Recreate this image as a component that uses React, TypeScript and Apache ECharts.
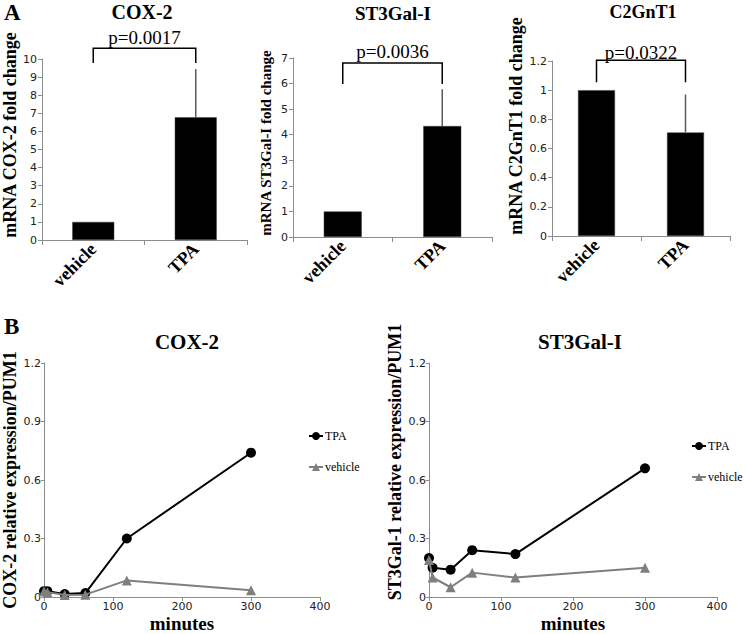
import React, { useEffect, useRef } from "react";
import * as echarts from "echarts";

// ---------- data ----------
const barCategories = ["vehicle", "TPA"];
const cox2Fold = [1, 6.78];
const cox2FoldErr = [0, 2.67];
const st3Fold = [1, 4.34];
const st3FoldErr = [0, 1.44];
const c2Fold = [1, 0.71];
const c2FoldErr = [0, 0.26];
const pValues = ["p=0.0017", "p=0.0036", "p=0.0322"];

const minutes = [0, 5, 30, 60, 120, 300];
const cox2TPA = [0.03, 0.03, 0.015, 0.02, 0.3, 0.74];
const cox2Vehicle = [0.03, 0.025, 0.01, 0.012, 0.085, 0.035];
const st3TPA = [0.2, 0.15, 0.14, 0.24, 0.22, 0.66];
const st3Vehicle = [0.19, 0.1, 0.05, 0.125, 0.1, 0.15];

// ---------- styles / layout ----------
const SERIF = '"Liberation Serif","Times New Roman",serif';
const SANS = '"DejaVu Sans",Verdana,sans-serif';
const AXIS_GRAY = "#8c8c8c";
const LABEL_GRAY = "#222";
const VEH_GRAY = "#7f7f7f";

const barPanels = [
  {
    title: "COX-2", titleX: 142, titleTop: 2, titleSize: 20,
    yName: "mRNA COX-2 fold change", nameSize: 18, nameGap: 23, namePad: 29,
    values: cox2Fold, errs: cox2FoldErr, p: pValues[0],
    max: 10, interval: 1,
    grid: { left: 40, top: 59, width: 207, height: 181 },
    bracket: { drop: 9.78, top: 10.6, text: 11.2 }, barWidth: 42,
  },
  {
    title: "ST3Gal-I", titleX: 393, titleTop: 4, titleSize: 19,
    yName: "mRNA ST3Gal-I fold change", nameSize: 15, nameGap: 20, namePad: 9,
    values: st3Fold, errs: st3FoldErr, p: pValues[1],
    max: 7, interval: 1,
    grid: { left: 293, top: 58, width: 199, height: 179 },
    bracket: { drop: 5.98, top: 6.8, text: 7.25 }, barWidth: 38,
  },
  {
    title: "C2GnT1", titleX: 643, titleTop: 3, titleSize: 18,
    yName: "mRNA C2GnT1 fold change", nameSize: 18, nameGap: 27, namePad: 45,
    values: c2Fold, errs: c2FoldErr, p: pValues[2],
    max: 1.2, interval: 0.2,
    grid: { left: 552, top: 61, width: 178, height: 175 },
    bracket: { drop: 1.055, top: 1.205, text: 1.26 }, barWidth: 37,
  },
];

const linePanels = [
  {
    title: "COX-2", titleX: 187,
    yName: "COX-2 relative expression/PUM1", namePad: 0,
    tpa: cox2TPA, veh: cox2Vehicle,
    grid: { left: 44, top: 363, width: 276, height: 234 },
    legend: { left: 308, top: 430 },
  },
  {
    title: "ST3Gal-I", titleX: 580,
    yName: "ST3Gal-1 relative expression/PUM1", namePad: 36,
    tpa: st3TPA, veh: st3Vehicle,
    grid: { left: 429, top: 363, width: 288, height: 235 },
    legend: { left: 691, top: 440 },
  },
];

function buildOption() {
  const grid: any[] = [];
  const xAxis: any[] = [];
  const yAxis: any[] = [];
  const series: any[] = [];
  const title: any[] = [];
  const legend: any[] = [];

  barPanels.forEach((p, i) => {
    grid.push({ ...p.grid, containLabel: false });
    title.push({
      text: p.title, left: p.titleX, top: p.titleTop, textAlign: "center", padding: 0,
      textStyle: { fontFamily: SERIF, fontWeight: "bold", fontSize: p.titleSize, color: "#000" },
    });
    xAxis.push({
      type: "category", gridIndex: i, data: barCategories,
      axisLine: { lineStyle: { color: AXIS_GRAY, width: 1 } },
      axisTick: { show: true, length: 5, lineStyle: { color: AXIS_GRAY } },
      axisLabel: {
        rotate: 45, interval: 0, margin: 6, color: "#000",
        fontFamily: SERIF, fontWeight: "bold", fontSize: 18,
      },
    });
    yAxis.push({
      type: "value", gridIndex: i, min: 0, max: p.max, interval: p.interval,
      name: p.yName, nameLocation: "middle", nameGap: p.nameGap,
      nameTextStyle: {
        fontFamily: SERIF, fontWeight: "bold", fontSize: p.nameSize, color: "#000",
        padding: [0, 0, 0, p.namePad],
      },
      axisLine: { show: true, lineStyle: { color: AXIS_GRAY, width: 1 } },
      axisTick: { show: true, length: 4, lineStyle: { color: AXIS_GRAY } },
      axisLabel: { margin: 5, color: LABEL_GRAY, fontFamily: SANS, fontSize: 11 },
      splitLine: { show: false },
    });
    series.push({
      type: "bar", xAxisIndex: i, yAxisIndex: i, data: p.values,
      barWidth: p.barWidth,
      itemStyle: { color: "#000", borderColor: "#444", borderWidth: 0.5 },
    });
    series.push({
      type: "custom", xAxisIndex: i, yAxisIndex: i, z: 5, clip: false,
      data: p.values.map((v, k) => [k, v, p.errs[k]]),
      renderItem: (params: any, api: any) => {
        const err = api.value(2);
        if (!err) return null;
        const a = api.coord([api.value(0), api.value(1)]);
        const b = api.coord([api.value(0), api.value(1) + err]);
        return {
          type: "line",
          shape: { x1: a[0], y1: a[1], x2: b[0], y2: b[1] },
          style: { stroke: "#5a5a5a", lineWidth: 1.5 },
        };
      },
    });
    const br = p.bracket;
    series.push({
      type: "custom", xAxisIndex: i, yAxisIndex: i, z: 6, clip: false,
      data: [[0, br.drop]],
      renderItem: (params: any, api: any) => {
        const l0 = api.coord([0, br.drop]);
        const l1 = api.coord([0, br.top]);
        const r0 = api.coord([1, br.drop]);
        const r1 = api.coord([1, br.top]);
        const t = api.coord([0, br.text]);
        return {
          type: "group",
          children: [
            {
              type: "polyline",
              shape: { points: [l0, l1, r1, r0] },
              style: { stroke: "#000", lineWidth: 1.5, fill: "none" },
            },
            {
              type: "text",
              style: {
                text: p.p, x: (l0[0] + r0[0]) / 2, y: t[1],
                align: "center", verticalAlign: "middle",
                font: `19px ${SERIF}`, fill: "#000",
              },
            },
          ],
        };
      },
    });
  });

  linePanels.forEach((p, j) => {
    const i = j + 3;
    grid.push({ ...p.grid, containLabel: false });
    title.push({
      text: p.title, left: p.titleX, top: 331, textAlign: "center", padding: 0,
      textStyle: { fontFamily: SERIF, fontWeight: "bold", fontSize: 21, color: "#000" },
    });
    xAxis.push({
      type: "value", gridIndex: i, min: 0, max: 400, interval: 100,
      name: "minutes", nameLocation: "middle", nameGap: 17,
      nameTextStyle: { fontFamily: SERIF, fontWeight: "bold", fontSize: 19, color: "#000" },
      axisLine: { show: true, onZero: false, lineStyle: { color: AXIS_GRAY, width: 1 } },
      axisTick: { show: true, length: 4, lineStyle: { color: AXIS_GRAY } },
      axisLabel: { margin: 4, color: LABEL_GRAY, fontFamily: SANS, fontSize: 11 },
      splitLine: { show: false },
    });
    yAxis.push({
      type: "value", gridIndex: i, min: 0, max: 1.2, interval: 0.3,
      name: p.yName, nameLocation: "middle", nameGap: 25,
      nameTextStyle: {
        fontFamily: SERIF, fontWeight: "bold", fontSize: 18, color: "#000",
        padding: [0, 0, 0, p.namePad],
      },
      axisLine: { show: true, lineStyle: { color: AXIS_GRAY, width: 1 } },
      axisTick: { show: true, length: 3, lineStyle: { color: AXIS_GRAY } },
      axisLabel: { margin: 3, color: LABEL_GRAY, fontFamily: SANS, fontSize: 11 },
      splitLine: { show: false },
    });
    series.push({
      name: "TPA", type: "line", xAxisIndex: i, yAxisIndex: i,
      data: minutes.map((m, k) => [m, p.tpa[k]]),
      symbol: "circle", symbolSize: 10,
      lineStyle: { color: "#000", width: 2 },
      itemStyle: { color: "#000" }, z: 3,
    });
    series.push({
      name: "vehicle", type: "line", xAxisIndex: i, yAxisIndex: i,
      data: minutes.map((m, k) => [m, p.veh[k]]),
      symbol: "triangle", symbolSize: 10,
      lineStyle: { color: VEH_GRAY, width: 2 },
      itemStyle: { color: VEH_GRAY }, z: 4,
    });
    legend.push({
      data: ["TPA", "vehicle"], orient: "vertical",
      left: p.legend.left, top: p.legend.top, padding: 0,
      itemWidth: 14, itemHeight: 10, itemGap: 19,
      selectedMode: false,
      textStyle: { fontFamily: SERIF, fontSize: 12, color: "#000", padding: [0, 0, 0, -3] },
    });
  });

  return {
    animation: false,
    backgroundColor: "#fff",
    title,
    legend,
    grid,
    xAxis,
    yAxis,
    series,
    graphic: [
      {
        type: "text", left: 4, top: 1,
        style: { text: "A", font: `bold 23px ${SERIF}`, fill: "#000" },
      },
      {
        type: "text", left: 4, top: 315,
        style: { text: "B", font: `bold 23px ${SERIF}`, fill: "#000" },
      },
    ],
  };
}

export default function App() {
  const ref = useRef<HTMLDivElement>(null);
  useEffect(() => {
    if (!ref.current) return;
    const chart = echarts.init(ref.current, null, { renderer: "svg" });
    chart.setOption(buildOption() as any);
    return () => chart.dispose();
  }, []);
  return (
    <div
      ref={ref}
      style={{ position: "fixed", left: 0, top: 0, width: 745, height: 634, background: "#fff" }}
    />
  );
}
